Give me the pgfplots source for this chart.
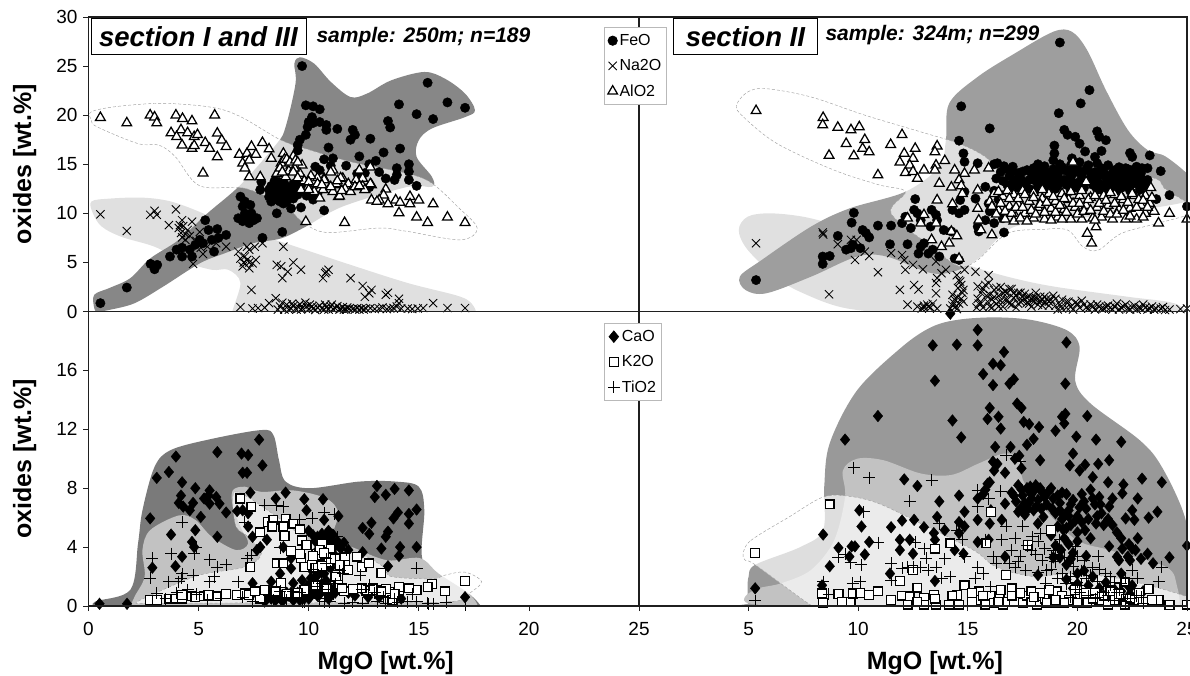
\documentclass[border=0pt]{standalone}
\usepackage{fontspec}
\setmainfont{Liberation Sans}
\usepackage{pgfplots}
\pgfplotsset{compat=1.18}
\definecolor{axc}{gray}{0.12}
\pgfplotsset{
 panel/.style={scale only axis,clip mode=individual,axis on top,
  axis line style={axc,line width=1.3pt},tick style={axc,line width=0.8pt},
  tick align=outside,xtick pos=bottom,ytick pos=left,major tick length=5pt,
  xmin=0,xmax=25,scaled ticks=false,
  tick label style={font=\fontsize{19}{20}\selectfont},
  xticklabel style={yshift=-8pt},yticklabel style={xshift=-2.5pt},
  /pgf/number format/assume math mode=true,
  legend cell align=left,
  legend style={draw=gray!55,line width=0.7pt,fill=white,font=\fontsize{16}{17}\selectfont,
   anchor=north west,inner xsep=3.5pt,inner ysep=5pt,row sep=8.5pt}},
 reg/.style={forget plot,no markers,draw=none,smooth cycle,tension=0.55,fill=#1},
 wreg/.style={forget plot,no markers,draw=gray!75,line width=0.45pt,densely dashed,smooth cycle,tension=0.55,fill=white,fill opacity=0.68},
 feo/.style={only marks,mark=*,mark size=4.7pt,mark options={fill=black,draw=black,solid}},
 nao/.style={only marks,mark=x,mark size=5.8pt,mark options={black,line width=0.85pt,solid}},
 alo/.style={only marks,mark=triangle*,mark size=5.6pt,mark options={fill=white,draw=black,line width=1.25pt,solid}},
 cao/.style={only marks,mark=diamond*,mark size=5.8pt,mark options={fill=black,draw=black,solid,xscale=1.1}},
 kao/.style={only marks,mark=square*,mark size=4.4pt,mark options={fill=white,draw=black,line width=1.25pt,solid}},
 tio/.style={only marks,mark=+,mark size=6pt,mark options={black,line width=0.85pt,solid}},
}
\begin{document}
\begin{tikzpicture}
\path[use as bounding box] (0pt,0pt) rectangle (1190pt,675pt);
%% ---------- top left
\begin{axis}[panel,at={(88.5pt,363.5pt)},anchor=south west,width=550.5pt,height=294.5pt,
 ymin=0,ymax=30,ytick={0,5,...,30},xtick=\empty,
 ylabel={\fontsize{25}{25}\selectfont\bfseries oxides [wt.\%]},
 ylabel style={at={(axis description cs:-0.116,0.5)},anchor=center}]
\addplot[reg=black!12] coordinates {(.13,11.2)(.96,11.5)(2.45,11.6)(3.75,11.2)(5.2,10)(6.35,8.65)(8,7.6)(8.95,6.95)(11.7,4.9)(14.5,2.9)(16.9,1.5)(17.5,.5)(17.55,-.4)(17,-.4)(7,-.4)(6.5,-.4)(6.9,2.9)(6.35,4.25)(5.6,4.25)(4.3,5.1)(3,6.6)(1.5,7.6)(.6,8.65)(.2,10)};
\addplot[reg=black!47] coordinates {(.26,1.7)(.96,2.4)(1.9,3.4)(2.8,5.4)(4.1,7.3)(5.4,10)(6.9,12.9)(8.55,17.1)(8.95,18.8)(9.4,23.2)(9.35,25.25)(9.6,25.9)(10.25,25.25)(11,23.4)(11.9,21.85)(12.65,22.2)(13.75,23.55)(15.25,24.4)(16.2,23.7)(17.1,22.2)(17.55,20.5)(17.1,19.8)(15.6,18.65)(15,17.45)(14.9,15.75)(15.6,13.7)(15.6,12.7)(14.5,12.7)(11.55,10.7)(9.87,8.65)(8.75,7.45)(7.45,6.95)(6.15,5.9)(5.05,4.9)(3.4,2.55)(2.1,.85)(.96,.17)(.4,0)(.26,.35)};
\addplot[wreg] coordinates {(.13,20.35)(1.35,20.9)(3.4,21.2)(5.6,20.8)(6.9,19.85)(8.75,17.45)(10.05,16.45)(11.9,15.25)(14.5,14.05)(15.6,13.05)(16.75,10.7)(17.65,8.5)(16.9,7.3)(14.5,8.15)(13.2,8.5)(10.8,8.05)(9.7,9.15)(8.95,10.7)(7.1,12.55)(5.05,12.8)(3.95,15.75)(3.2,16.95)(2.25,17.1)(.4,18.8)(.13,19.5)};
\addplot[feo] coordinates {(.54,.85)(1.74,2.44)(2.82,4.85)(3.12,4.75)(3,4.3)(3.7,5.6)(4,6.3)(4.25,6.5)(4.25,5.6)(4.7,5.6)(4.6,6.3)(4.85,6.8)(5.05,7.3)(5.2,6.95)(5.45,8.3)(5.3,9.3)(5.85,8.4)(5.7,6.1)(5.9,7.5)(6.25,7.8)(5.6,7.3)(7.9,7.5)(8.8,8.1)(6.9,11.7)(6.8,9.5)(7,10.7)(7.1,10)(7.35,10.85)(7.3,9)(7.65,9.5)(7.2,9.5)(7.4,10)(7.1,11.2)(7.5,9.3)(7,9.2)(7.8,12.4)(7.85,13.2)(8.2,11.7)(8.3,11.2)(8.55,10)(8.5,12.7)(8.65,13.2)(8.75,12.2)(8.95,11.7)(8.85,11)(9.2,10.5)(9.65,10.6)(9.3,11.5)(9.8,12.4)(9.6,13)(10.2,11.4)(10.7,10.3)(10.4,12)(9.1,12.5)(9.4,12.7)(8.4,12.2)(8.6,12)(9,12.7)(8.2,12.4)(8.9,13)(9.3,13)(9.7,25)(9.87,21)(10.2,20.9)(10.5,20.6)(10.15,19.8)(10,19.3)(9.95,18.8)(9.87,18)(9.6,17.5)(9.5,16.95)(9.5,16.4)(10.2,19.2)(10.5,19.3)(10.8,19)(10.8,18.5)(11.3,18.6)(12,18.5)(12.1,18)(11.9,17.5)(12.8,17.6)(13.6,19.4)(13.7,18.75)(14.1,21.1)(14.9,20.1)(15.4,23.3)(15.65,19.6)(16.3,21.3)(17.1,20.75)(10.9,16.7)(10.7,15.5)(11.1,15.6)(11,14.85)(11.7,14.85)(12.3,15.8)(13.4,16.2)(14.15,16.6)(13.05,15.35)(12.75,15)(10.3,14.75)(10.5,14.4)(12.2,14.05)(12.55,14.1)(13.2,14.2)(13.5,13.55)(13.9,13.4)(14,14.6)(14,13.9)(14.55,15)(14.55,14.25)(14.55,13.4)(14.9,12.8)(12.75,12.65)(8.3,12.8)(8.45,11.9)(8.55,11.4)(8.7,12.6)(8.8,11.6)(8.9,12.2)(9,11.2)(9.05,12.1)(9.15,11.9)(9.25,12.3)(8.6,13)(8.45,13.3)(8.7,11.2)(9.5,11.9)(9.55,12.3)(9.9,11.8)(10,12.2)(10.2,12)};
\addplot[nao] coordinates {(.54,9.9)(1.74,8.2)(2.8,9.85)(3.1,9.85)(3,10.25)(3.97,10.4)(3.65,8.8)(4.25,9.3)(4.7,9.15)(4.1,8.5)(4.2,8)(4.5,8.3)(5.05,8.1)(4.25,7.55)(4.75,4.85)(5.2,5.85)(5.4,6.6)(5.8,6.95)(6.25,6.6)(6.8,6.1)(7.2,6.6)(7.55,6.6)(7.9,6.95)(8.85,6.6)(7.1,5.6)(7.3,6.3)(7,4.6)(7.3,4.4)(7.45,4.9)(7.6,5.25)(7.2,5.25)(7.4,2.2)(8.55,4.75)(8.75,4.6)(8.8,3.4)(9.05,4.05)(9.3,5)(9.65,4.25)(10.65,3.4)(10.8,4.05)(10.75,3.9)(10.9,4.25)(11.9,3.4)(12.45,2.6)(12.55,1.5)(12.85,2.2)(12.75,1.85)(13.5,1.7)(13.6,1.9)(14.1,1.3)(14.1,.85)(15.65,.85)(16.3,.35)(17.1,.35)(6.9,.45)(7.45,.3)(7.7,.35)(8,.4)(8.2,.85)(8.5,1.35)(8.7,.5)(8.9,.2)(9,.7)(9.2,.3)(9.3,.55)(9.45,.2)(9.6,.75)(9.7,.35)(9.85,.9)(10,.25)(10.15,.5)(10.3,.15)(10.5,.6)(10.6,.3)(10.75,.7)(10.9,.2)(11,.5)(11.1,.25)(11.3,.55)(11.45,.3)(11.6,.2)(11.75,.4)(11.85,.3)(12,.25)(12.2,.35)(12.4,.3)(12.6,.3)(12.8,.35)(13,.25)(13.2,.3)(13.35,.4)(13.55,.25)(13.7,.3)(13.85,.35)(14,.5)(14.2,.3)(14.5,.3)(14.7,.25)(14.95,.3)(15.2,.35)(8.6,.2)(8.8,.9)(9.1,.2)(9.25,.8)(9.5,.5)(9.65,.2)(9.9,.5)(10.05,.7)(10.2,.3)(10.4,.4)(10.7,.2)(10.8,.45)(11.05,.7)(11.2,.35)(11.4,.2)(11.55,.45)(11.7,.2)(12.1,.2)(12.3,.2)(12.5,.2)(4.3,8.7)(4.4,7.9)(4.15,8.8)(4.6,7.7)(4.9,7.2)(5.1,6.5)(4.4,7.3)(6.9,5.4)(7.05,5)(7.3,5)};
\addplot[alo] coordinates {(.54,19.75)(1.74,19.2)(2.8,20)(3,19.8)(3.1,19.2)(3.97,20)(4.27,19.65)(4.7,19.4)(5.73,20)(3.75,18.2)(4.2,18.5)(4,17.8)(4.25,16.95)(4.5,18.2)(4.8,17.8)(4.95,18)(4.7,16.6)(4.8,16.9)(5.3,17.2)(5.5,16.6)(5.85,18.15)(6.05,17.45)(6.25,16.8)(5.85,15.75)(5.2,14.1)(6.85,16)(7.2,16.1)(7.4,16.8)(7.6,16)(7.9,17.2)(7,15.1)(7.3,15.4)(7.1,14.6)(7.3,13.7)(7.8,13.7)(8.2,16.55)(8.3,15.6)(8.85,16.1)(8.75,15.1)(9.3,15.8)(9.2,14.9)(9.7,14.9)(8.55,14.05)(8.95,13.7)(9.6,14.05)(8.9,15.5)(9.1,14.3)(9.35,14.6)(10,12.7)(10.25,13.2)(10.7,13.55)(11.1,14.4)(11.55,13.55)(11.2,12.9)(10.5,12.45)(10.9,12.4)(11.35,11.7)(11.8,12.7)(12.2,13.4)(12.45,13.55)(12.3,14.4)(12.85,12.9)(12.55,12.4)(13.5,12.45)(13.4,11.85)(12.85,11.35)(13.2,11.35)(13.1,11.2)(13.6,10.95)(13.95,11.35)(14.15,11.1)(14.1,10.05)(14.6,11.7)(14.6,10.95)(15,11.35)(15.65,10.95)(14.9,9.6)(15.4,9.05)(16.3,9.6)(17.1,9.05)(9.87,9.15)(11.63,9.05)(10.2,13.25)(10.4,13.6)(10.7,13.4)(11,14.2)(11.25,13)(10.65,12.4)(10.25,12.2)(9.95,12.6)(9.65,12.4)(11.45,13.6)(11.8,13)(12.15,13.4)(12.45,12.75)(12.8,13)(12.55,12.4)(11.65,12.5)(11.1,12.2)(11.4,11.75)(10.5,11.55)(12.8,14.7)(9.8,13.3)(10.1,13.8)(8.7,14.6)(9,15.5)(9.15,15.2)(9.4,15.4)(8.8,14.2)(9.3,14.2)(9.5,13.6)(9.5,15.2)(10,13.2)(10,12.4)(10.4,13)(10.6,12.9)(11,12.7)(11.3,13.3)(11.5,12.3)(11.9,12.2)(12.1,12.7)(12.3,12.8)};
\end{axis}
%% ---------- bottom left
\begin{axis}[panel,at={(88.5pt,69pt)},anchor=south west,width=550.5pt,height=294.5pt,
 ymin=0,ymax=20,ytick={0,4,8,12,16},xtick={0,5,...,25},
 xlabel={\fontsize{25}{25}\selectfont\bfseries MgO [wt.\%]},
 xlabel style={at={(axis description cs:0.54,-0.193)},anchor=center},
 ylabel={\fontsize{25}{25}\selectfont\bfseries oxides [wt.\%]},
 ylabel style={at={(axis description cs:-0.116,0.5)},anchor=center}]
\addplot[reg=black!52] coordinates {(.3,.3)(1.9,1.1)(2.25,4.25)(2.45,6.5)(3,9.45)(3.75,10.6)(5.6,11.35)(7.85,11.95)(8.4,11.6)(8.65,9.9)(8.95,8.45)(10.05,8)(12.3,8.45)(13.95,8.45)(15,8.1)(15.25,6.5)(15.15,3.25)(15.9,2.1)(17.3,.8)(17.85,-.15)(17.3,-.15)(.8,-.15)(.3,-.15)};
\addplot[reg=black!24] coordinates {(2.45,3.8)(2.8,5.15)(4.1,6.15)(4.85,5.85)(5.6,4.7)(6.7,3.8)(7.25,4.25)(6.9,5.4)(6.55,6.75)(6.55,7.85)(7.1,8.1)(7.85,7.75)(9.3,7.85)(10.8,7.3)(11.35,6.3)(11.15,4.7)(12.3,3.8)(13.6,3.1)(15.05,3.25)(15.9,2.2)(17.3,.8)(17.7,-.15)(17.2,-.15)(2.3,-.15)(1.9,-.15)(2.1,.65)(2.55,2)};
\addplot[wreg] coordinates {(2.15,.2)(3,.85)(5.05,2.1)(7.1,2.65)(7.85,3.55)(7.25,4.7)(6.7,5.4)(6.55,7.2)(6.7,7.75)(7.45,7.2)(8.75,5.85)(10.05,4.45)(12.3,3.55)(13.4,2.65)(13.75,2)(15.6,1.85)(16.2,2.1)(17.1,2.3)(17.85,1.65)(17.3,.85)(16.9,.4)(16.35,.3)(15.5,.25)(5.25,.2)(2.8,.2)};
\addplot[cao] coordinates {(.5,.15)(1.75,.15)(2.9,2.6)(2.8,5.95)(3.1,8.7)(3.65,9.1)(3.97,10.15)(3.75,4.85)(4.25,8.4)(4.2,7.5)(4.1,7)(4.3,6.75)(4.6,6.5)(4.75,7)(4.85,8)(5.1,6.05)(4.85,5.15)(4.7,4.35)(4.8,4)(4.25,3.35)(3.95,2.7)(5.25,7.3)(5.45,7.5)(5.5,7.85)(5.5,6.95)(5.8,7.4)(5.95,6.95)(5.85,10.45)(6.25,6.35)(5.85,4.7)(6.75,6.45)(7,6.5)(7.25,6.3)(6.95,10.35)(7.25,10.25)(7.75,11.3)(7.9,9.55)(7,9.05)(7.2,9.05)(7.35,7.7)(7.25,5.4)(7.45,4.7)(8.1,4.5)(7.8,4)(7.65,3.8)(8.5,7.3)(8.95,7.7)(9.8,7.25)(9.9,6.5)(10.65,7.25)(10.7,5.85)(11.35,6.1)(8.85,4)(9.2,3.25)(9.2,2.55)(8.7,2.2)(12.45,5.3)(12.85,5.65)(12.75,4.9)(13.1,8.15)(13,7.4)(13.5,7.55)(13.9,7.95)(14.55,7.85)(13.85,5.95)(14.05,6.35)(14.55,6.25)(14.9,6.55)(14.55,5.6)(13.6,5.05)(13.5,4.7)(13.3,3.9)(14.15,4)(14.9,4)(14.1,3.4)(13.6,2.7)(12.45,3.65)(17.1,.6)(10.4,4.7)(10.6,4.9)(10.9,4.7)(11.1,4.85)(11.3,4.4)(10.5,4.3)(10.8,4.2)(11.1,3.9)(11.6,4.3)(11.8,3.8)(10.4,3.8)(10.7,3.5)(11,3.1)(10.2,3)(10.5,2.5)(10.7,2.2)(11,2.6)(11.3,2.9)(10.1,1.9)(7.45,1.55)(8.3,1.65)(9.3,1.55)(9.7,1.75)(10.2,1.4)(10.6,1.5)(7.6,.9)(7.9,.7)(8.1,.5)(8.3,.95)(8.5,.4)(8.7,.8)(8.9,.5)(9.1,.7)(9.3,.4)(9.5,.9)(9.7,.6)(9.9,1)(10.1,.7)(10.3,1.1)(10.5,.8)(10.7,1.1)(10.9,.5)(11.2,.9)(11.8,.9)(12.1,.7)(12.5,1)(12.7,.6)(13.2,.6)(14.2,.5)(10,5.1)(10.2,4.8)(10.3,4.4)(10.6,4.5)(10.7,4.6)(10.9,5.1)(11.05,4.4)(11.2,4.1)(11.45,3.9)(10.3,3.4)(10.6,3)(10.9,2.7)(11.2,3.4)(10.4,2.1)(10.1,1.6)(10.3,1.6)(10.5,1.1)(10.8,1.7)(10.1,2.5)(9.9,1.3)(8,.3)(8.3,.5)(8.6,.6)(8.8,.35)(9,.9)(9.2,.9)(9.4,.6)(9.6,.4)(9.8,.5)(10,.5)(10.2,1)(10.4,.7)(10.6,1.3)(10.8,.9)(11,1.2)(11,.8)};
\addplot[kao] coordinates {(2.8,.4)(3.1,.4)(3.65,.5)(3.95,.5)(4.25,.5)(4.25,.75)(4.7,.65)(4.85,.6)(5.25,.65)(5.45,.75)(5.85,.65)(6.25,.8)(6.75,.75)(7.1,.85)(7.3,.75)(7.8,.5)(7.55,1)(8,1.1)(6.9,7.3)(7.4,6.75)(7.8,5)(8.15,5.7)(8.4,5.85)(8.35,5.4)(8.95,5.9)(8.85,5.4)(8.9,4.75)(9.3,5.6)(9.6,5.2)(9.7,4.45)(9.9,4.15)(9.2,3.75)(9.65,3.25)(9.6,3.55)(8.55,2.9)(8.85,2.9)(9.8,2.65)(10.15,2.8)(10.35,3.55)(10.6,4.25)(11,3.9)(10.45,3.45)(10.8,3.35)(11.65,3.3)(12.2,3.35)(11.65,2.8)(11.8,2.45)(12.4,2.65)(12.75,2.9)(13.3,2.25)(7.35,2.65)(11.25,2)(8.75,1.55)(17.1,1.7)(15.6,1.5)(15.4,1.3)(16.2,1)(14.9,1.1)(14.55,1.2)(14.1,1.05)(14.1,1.3)(13.65,.95)(13.5,1.15)(13.1,1.1)(12.65,1.05)(12.4,1.2)(12,1.15)(11.6,1)(11.35,1.45)(10.8,1.2)(9.8,1.1)(10.3,1.4)(13.8,.4)(10.5,3.8)(10.2,3.4)(10.7,3.6)(10.9,3)(11.2,3.2)(11.4,2.8)(10.3,2.6)(10.6,2.7)(11.5,1.2)(12.9,1.2)(13.3,1)(13.9,.8)(9.5,.9)(9,.8)(8.5,1)};
\addplot[tio] coordinates {(2.9,3.25)(2.8,1.9)(3.1,.85)(3.65,1.65)(3.75,3.55)(4.25,5.7)(4.9,4)(4.8,3.55)(5.5,3.15)(5.85,2.65)(6.25,2.8)(4.75,2.1)(4.25,2.2)(4.1,1.65)(4.2,1.9)(5.5,1.65)(5.7,2)(4.5,1.1)(6.8,1.65)(7.2,3.25)(7.4,3.45)(7.1,5.7)(8,6.85)(8.85,6.75)(8.55,6.85)(10.15,5.95)(10.7,6.35)(11.15,6.25)(8.7,3.95)(9.6,5.85)(14.9,2.55)(12.35,2.1)(12.75,1.4)(7.45,.3)(9.7,.3)(10.7,.3)(10.95,.3)(11.6,.2)(12,.25)(12.45,.2)(13.1,.3)(13.5,.2)(14.05,.25)(14.5,.3)(14.9,.3)(15.45,.15)(15.65,.15)(16.25,.25)(17.1,.05)(10.8,2.9)(11.2,3.55)(11.55,2.2)(10.6,2.2)(10.6,1.55)(11,1.75)(10.2,1.9)(10.4,3.1)(11.7,3.8)(3.5,.5)(4,.9)(4.9,.8)(5.4,.4)(6,.5)(7,.6)(8.2,.7)(9,.4)(9.6,.9)(10.1,.8)(10.5,.5)(11.1,.8)(12.7,.7)(13.4,.6)(13.9,.5)(9.8,.3)(10,.8)(10.4,1.3)(10.9,1.1)(11.2,1.5)(11.4,2.4)(11,2.4)(10.2,2.5)(10.8,3.2)(11.3,4.7)(12.4,1.1)(13,.9)(14.7,.8)(15.4,.2)(8.7,1)(8.9,.6)(9.3,1)(8.4,.4)};
\end{axis}
%% ---------- top right
\begin{axis}[panel,at={(639pt,363.5pt)},anchor=south west,width=548pt,height=294.5pt,
 ymin=0,ymax=30,ytick=\empty,xtick=\empty,
 legend style={at={(-0.0639,0.966)}}]
\addplot[reg=black!12] coordinates {(4.55,8.3)(4.95,9.65)(5.95,10)(7.5,9.65)(9.25,8.65)(12,6.95)(14.75,4.9)(16.8,3.55)(18.9,2.55)(22.3,1.5)(24.4,.85)(25.2,-.4)(24.8,-.4)(13,-.4)(12.5,-.4)(9.4,.35)(7.5,1.85)(6.3,3.4)(4.95,6.3)};
\addplot[reg=black!38] coordinates {(4.6,3.55)(5.6,5.25)(7.85,8.65)(9.6,10.5)(12.15,12.2)(13.7,14.75)(14,17.45)(14.15,21.2)(15.45,23.9)(17.15,26.3)(18.9,28.5)(19.75,28.5)(20.45,26.6)(21.3,22.55)(22.3,18.5)(23.2,16.45)(24.05,15.75)(25.25,13.4)(25.25,11.35)(20.6,9.65)(17.15,8.65)(15.6,5.6)(14.6,4.25)(13.35,3.9)(11.3,5.6)(9.95,5.6)(7.85,3.55)(5.8,1.85)(4.85,2.2)};
\addplot[wreg] coordinates {(4.45,21)(4.95,22.35)(5.8,22.7)(7.85,21.85)(10.3,20)(12.85,18.3)(14.6,17.1)(15.8,15.75)(16.8,13.7)(18.9,13.4)(23.2,13.7)(24.05,12.4)(25.25,10.7)(25.25,10)(23.7,9)(22,7.95)(20.95,6.25)(20.25,6.6)(19.55,8.3)(18.35,8.35)(16.8,7.95)(15.45,5.25)(14.6,4.6)(13.35,6.6)(11.5,10)(12.15,12.2)(10.95,12.9)(8.9,14.4)(6.3,17.1)(4.75,19.85)};
\addplot[feo] coordinates {(5.34,3.2)(8.38,4.85)(8.7,5.65)(8.38,5.6)(9.07,7.7)(9.45,6.3)(9.76,6.8)(10.1,6.45)(9.67,6.45)(9.7,9.05)(9.8,10.05)(10.2,8.3)(10.35,8)(10.5,7.55)(10.9,8.75)(11.5,8.75)(11.45,6.85)(12.25,6.85)(12,9)(12.15,9.65)(12.4,8.5)(12.6,11.45)(12.55,10.35)(12.7,10)(12.85,9.3)(13.35,10.35)(13.55,9.85)(13.6,9.3)(13.3,8.65)(13.9,8.3)(14.25,8.15)(12.85,6.6)(12.75,5.9)(13,6.95)(13.4,6.3)(13.2,5.9)(13.7,5.6)(14.4,5.4)(14.6,5.25)(14.3,10.35)(14.6,10)(14.85,10.35)(14.65,11.35)(14.85,12.2)(14.7,20.9)(14.6,17.4)(14.8,16.1)(14.85,15.25)(15.45,15.1)(15.35,11.5)(15.8,12.7)(15.45,8.65)(15.8,9.3)(15.5,8.15)(16.65,8.05)(15.95,11)(16,18.65)(16.35,15.1)(16.65,14.8)(17.05,14.75)(16.3,13.55)(19.2,27.4)(20.55,22.55)(20.15,21.2)(19.15,20.2)(19.4,18.5)(19.55,18)(19.9,17.8)(20.1,17.1)(20.9,18.35)(21,17.8)(21.3,17.45)(18.95,16.9)(18.95,16.1)(18.9,15.4)(20.35,16.3)(21.1,16.35)(19.75,15.6)(20.8,15.75)(22.4,16.15)(22.5,15.75)(23.3,15.9)(23.8,14.3)(24.2,11.85)(23.6,11.45)(25,10.7)(16.2,15)(17.5,14.25)(18.2,15)(22.3,14.5)(22.7,14.75)(22.95,14.6)(23.2,14.6)(23.2,13.4)(22.85,12.4)(16.6,13.3)(16.9,13.8)(17.2,13)(17.4,13.6)(17.6,12.9)(17.9,14.1)(18,13.4)(18.2,12.9)(18.4,14.3)(18.6,13.7)(18.8,13.1)(18.9,14.5)(19.1,13.9)(19.3,14.7)(19.4,13.4)(19.6,14.2)(19.8,13.1)(20,14.6)(20.2,13.7)(20.3,12.6)(20.5,14.9)(20.6,13.4)(20.8,14.2)(21,13)(21.1,14.6)(21.3,13.7)(21.5,12.7)(21.6,14.1)(21.8,13.2)(21.9,14.7)(22.1,13.7)(22.2,12.8)(22.4,13.9)(22.5,13)(22.6,14.2)(22.8,13.5)(17,12.7)(18.1,12.4)(19,12.5)(19.7,12.3)(20.9,12.4)(21.2,12.3)(21.9,12.4)(22.4,12.3)(16,10.2)(16.2,12.3)(16.4,11.4)(16.6,9.5)(16.2,9)(16.5,14.2)(16.8,12.9)(17,14.3)(17.1,13.4)(17.3,14.1)(17.3,12.6)(17.5,13.2)(17.7,14.4)(17.8,13.4)(17.8,12.5)(18,14.6)(18.1,13.8)(18.3,13.5)(18.3,14.4)(18.5,13)(18.5,14.8)(18.7,14.1)(18.7,12.6)(18.9,13.6)(19,14.2)(19.2,13.2)(19.2,15)(19.4,14.4)(19.5,12.9)(19.7,13.7)(19.7,14.9)(19.9,14.2)(20,13.1)(20.1,15.2)(20.2,14.1)(20.4,13.3)(20.4,14.5)(20.6,14.1)(20.7,12.9)(20.8,13.6)(20.9,15.1)(21,13.8)(21.1,12.7)(21.2,14.2)(21.3,13)(21.4,14.9)(21.5,13.6)(21.6,13.1)(21.7,14.4)(21.8,12.7)(21.9,13.7)(22,14.2)(22.1,13.1)(22.2,14.6)(22.3,13.4)(22.4,12.8)(22.5,14.4)(22.6,13.3)(22.7,13.9)(22.8,12.9)(22.9,14.1)(23,13.4)(23.1,12.8)(16.8,14.5)(18.2,12.6)(19.1,12.8)(20,12.6)(21,12.5)(22,12.6)};
\addlegendentry{FeO}
\addplot[nao] coordinates {(5.34,6.95)(8.38,8.05)(8.4,7.85)(8.67,1.75)(9.07,6.85)(9.67,7.3)(9.93,7.3)(9.85,5.25)(10.3,6.1)(10.5,5.65)(10.9,4)(11.5,5.95)(11.9,2.2)(12,5.75)(12.1,5.25)(12.15,4.25)(12.5,4.75)(12.55,2.7)(12.75,2.25)(12.95,4.3)(12.25,.7)(13.55,5.1)(13.55,2.9)(13.55,1.85)(13.8,3.9)(14,4.25)(13.6,3.4)(14.3,1.7)(14.5,3.7)(14.85,4.25)(14.65,3.05)(14.8,2.2)(15.35,4.05)(15.95,3.7)(15.45,2.55)(12.7,.5)(12.9,.3)(13,.6)(13.15,.7)(13.3,.4)(13.4,.8)(13.6,.3)(14.2,.3)(14.35,.9)(14.45,.5)(14.6,.8)(14.5,.25)(14.7,1.3)(15.4,.4)(15.45,1.3)(15.6,.8)(15.7,2.3)(15.85,1.6)(15.95,2.9)(16,.5)(16.1,1.2)(16.2,2.2)(16.3,.8)(16.4,1.6)(16.5,2.5)(16.6,.5)(16.7,1.2)(16.8,1.9)(16.9,.8)(17,2.3)(17.1,1.4)(17.2,.4)(17.3,1.9)(17.4,1)(17.5,1.5)(17.7,.9)(17.8,1.6)(17.9,.5)(18,1.4)(18.1,1.9)(18.3,1.1)(18.4,.6)(18.5,1.5)(18.7,1)(18.9,1.6)(19,.6)(19.1,.2)(19.3,1.2)(19.5,.4)(19.6,1)(19.8,.2)(20,.8)(20.2,1.1)(20.4,.4)(20.6,.7)(20.8,.2)(21,.5)(21.2,.3)(21.4,.6)(21.6,.2)(21.8,.8)(22,.4)(22.2,.7)(22.4,.2)(22.6,.6)(22.8,.4)(23,.7)(23.2,.2)(23.4,.5)(23.6,.3)(23.9,.45)(24.2,.2)(24.7,.25)(25,.3)(15.5,.8)(15.6,1.9)(15.7,.4)(15.8,2.7)(15.9,1)(16,1.7)(16.1,.4)(16.2,1.5)(16.3,2.4)(16.4,.5)(16.5,1.1)(16.6,1.9)(16.7,2)(16.8,1.2)(16.9,2.3)(17,.7)(17.1,1.9)(17.2,1.6)(17.3,.8)(17.4,1.9)(17.5,1.1)(17.6,1.8)(17.7,1.4)(17.8,.8)(17.9,1.3)(18,1)(18.1,1.4)(18.2,.7)(18.3,1.5)(18.4,1.2)(18.5,.9)(18.6,1.3)(18.7,.6)(18.8,1.2)(19,1.3)(19.2,.7)(19.3,.3)(19.5,1)(19.7,.5)(19.9,.9)(20.1,.4)(20.3,.7)(20.5,.3)(20.7,.5)(20.9,.7)(21.1,.3)(21.3,.5)(21.5,.4)(21.7,.5)(21.9,.2)(22.1,.5)(22.3,.3)(22.5,.4)(22.7,.2)(22.9,.3)(23.1,.4)(23.3,.3)(23.5,.2)(23.8,.3)(24,.15)(13,.4)(13.2,.5)(14.3,.6)(14.4,1.2)(14.5,1.5)(14.55,2.4)(14.7,2.7)(14.75,1.9)(14.6,3.2)(14.8,1)};
\addlegendentry{Na2O}
\addplot[alo] coordinates {(5.34,20.45)(8.4,19.75)(8.38,19)(9.07,18.75)(9.67,18.5)(10.05,18.8)(10.3,17.5)(9.45,17.1)(10.2,16.6)(10.5,16.25)(8.67,15.9)(9.8,15.85)(11.48,17)(12,18)(10.9,13.9)(12.1,16.1)(12.6,16.6)(12.5,15.6)(11.9,15.2)(12.35,14.9)(12.15,14.15)(12.5,14.25)(13,14.4)(12.7,13.55)(13.6,16.85)(13.5,16.25)(13.95,15.35)(13.55,14.9)(13.5,14.4)(13.7,13.05)(13.6,11.35)(14.25,12.65)(14.4,14.4)(14.85,14.05)(14.6,13.4)(14.7,12.8)(14.75,12)(14.3,10.95)(15.3,14.4)(15.95,14.6)(12.25,9.5)(13,9.85)(12.85,9)(13.55,9)(13.35,7.3)(13.8,6.6)(14.15,6.95)(14.25,8.15)(14.5,7.7)(14.6,5.4)(15.45,10.5)(15.45,12.35)(15.5,9.3)(16.1,7.8)(15.6,8.3)(20.45,7.95)(20.65,6.95)(20.85,8.6)(19.8,15.2)(20.4,13.2)(23.35,12.6)(24.2,10)(25,9.4)(23.7,9)(16,11.2)(16.2,12)(16.4,10.3)(16.6,11.7)(16.7,9.4)(16.9,10.7)(17.1,11.9)(17.2,9.6)(17.3,10.9)(17.5,12.3)(17.6,10)(17.8,11.2)(18,9.5)(18,12.1)(18.2,10.6)(18.4,11.5)(18.5,9.4)(18.7,12)(18.8,10.5)(19,11.2)(19.1,9.6)(19.3,12)(19.4,10.4)(19.6,11.4)(19.7,9.4)(19.9,10.6)(20.1,11.8)(20.2,9.4)(20.4,10.8)(20.6,11.6)(20.7,9.5)(20.9,10.6)(21.1,9.6)(21.2,11.8)(21.4,10.8)(21.6,9.4)(21.7,11.9)(21.9,10.4)(22.1,11.4)(22.2,9.4)(22.4,10.5)(22.6,11.8)(22.7,9.4)(22.9,10.8)(23.1,11.8)(23.1,10)(23.3,11)(23.5,10.2)(16.1,10.7)(16.3,9.9)(16.4,12.2)(16.5,11)(16.7,10.2)(16.8,12.3)(16.9,11.5)(17,10)(17.1,9.2)(17.2,10.6)(17.3,11.5)(17.4,9.5)(17.5,10.6)(17.6,11.9)(17.7,9.2)(17.9,10.3)(18,11.6)(18.1,9.9)(18.3,10.9)(18.4,12.4)(18.5,10.1)(18.6,11.1)(18.8,9.3)(18.9,11.7)(19,10.1)(19.2,10.8)(19.3,9.4)(19.4,11.5)(19.5,10.1)(19.7,12.2)(19.8,11)(20,9.9)(20.1,11)(20.2,12.3)(20.3,10.2)(20.5,11.4)(20.6,10.3)(20.8,9.3)(20.8,11.8)(21,11)(21.2,10.2)(21.3,11.3)(21.5,9.9)(21.5,12.1)(21.7,11)(21.8,9.9)(22,11.7)(22.1,10.3)(22.3,11.1)(22.4,9.7)(22.5,12)(22.7,10.6)(22.8,11.4)(23,9.6)(23,11.3)(23.2,10.6)(23.4,11.6)};
\addlegendentry{AlO2}
\end{axis}
%% ---------- bottom right
\begin{axis}[panel,at={(639pt,69pt)},anchor=south west,width=548pt,height=294.5pt,
 ymin=0,ymax=20,ytick=\empty,xtick={5,10,15,20,25},
 xlabel={\fontsize{25}{25}\selectfont\bfseries MgO [wt.\%]},
 xlabel style={at={(axis description cs:0.54,-0.193)},anchor=center},
 legend style={at={(-0.0639,0.961)}}]
\addplot[reg=black!40] coordinates {(5,2)(5.3,2.8)(7.35,4)(8.4,5.15)(8.45,8.1)(8.7,11.05)(9.95,14.65)(12,17.6)(13.35,18.95)(14.6,19.45)(16.3,19.6)(18,19.4)(19.55,18.7)(20.1,17.6)(19.9,15.3)(20.6,13.75)(22.85,11.25)(23.85,9.45)(24.9,6.05)(25.25,2.45)(25.2,-.15)(24.8,-.15)(5.3,-.15)(5,.2)(4.95,1.1)};
\addplot[reg=black!24] coordinates {(4.85,.65)(5.45,1.2)(6.5,1.55)(7.85,2.45)(8.9,4.45)(9.4,7.4)(9.3,9.2)(9.95,10)(11.15,9.9)(12.85,9)(14.25,8.9)(15.45,9.65)(16.65,10.35)(17.5,10)(17.6,8.3)(19.75,4.7)(21.45,3.8)(24.05,2.65)(24.55,1.3)(24.65,-.15)(24.2,-.15)(8.3,-.15)(7.8,-.15)(5.1,.15)};
\addplot[wreg] coordinates {(4.75,3.55)(5.1,4.45)(6.85,6.05)(8.4,7.4)(9.6,7.45)(10.95,6.95)(12.85,5.6)(15.25,3.8)(16.3,2.65)(18,2)(19.75,2.2)(22.3,1.75)(25.25,.5)(25.25,-.05)(24.8,-.05)(8.3,.05)(7.85,.05)(5.3,2.8)(4.85,3.1)};
\addplot[cao] coordinates {(14.2,19.85)(5.3,1.2)(8.4,4.85)(8.7,2.7)(8.35,1.4)(9.1,3.95)(9.4,11.3)(9.6,3.35)(9.7,4.05)(9.85,4.05)(10.3,3.5)(10.5,4.35)(10.05,6.5)(10.15,5.4)(10.9,12.9)(11.5,5.35)(11.45,2.2)(12,5.8)(11.9,4.5)(11.9,3.8)(12.35,4.5)(12.5,3.55)(12.1,8.6)(12.7,8.15)(12.55,5.85)(13,5.35)(13.45,4.95)(13.5,4.5)(13.4,17.7)(13.5,15.3)(13.7,7.1)(13.6,6.05)(13.95,5.15)(13.5,1.7)(14.5,17.75)(14.3,12.6)(14.7,11.45)(14.6,7.5)(14.85,6.4)(14.6,5.7)(14.85,5.4)(14.6,4.95)(14.4,3.8)(14.8,3.55)(15.45,18.75)(15.45,17.7)(15.7,15.75)(16.15,16.45)(16.5,16.35)(16.65,17.25)(16.15,15)(17.1,15.4)(16.9,15.1)(16,13.45)(15.9,12.7)(16.4,12.85)(16.5,12.05)(17.25,13.75)(17.45,13.45)(17.55,12.5)(17.8,12.35)(18.25,12.15)(18,11.35)(17.7,10.95)(16.25,10.8)(16.95,10.8)(17.35,10.2)(17.15,10)(16.15,9.8)(16.35,9.65)(16.2,9.2)(16.7,9.05)(17.45,9.35)(18.3,9.9)(19.5,17.9)(19.45,15.1)(19.45,13.05)(19.3,12.85)(19.4,12.4)(19,11.9)(20.45,12.9)(19.95,11.5)(20.85,11.3)(22,11.15)(19.8,10.35)(21.45,9.9)(20.95,9.65)(20.35,9.6)(19.65,9.55)(20.1,9.2)(20.7,8.75)(22.95,8.65)(23.85,8.4)(22.1,8.25)(21.4,8.4)(23.65,6.4)(23.25,6)(22.5,6.5)(22.75,7.3)(22.05,7.65)(21.6,7.3)(21.45,6.75)(21.1,6.3)(20.85,5.6)(20.35,5.15)(20.6,4.6)(22.2,5.95)(22.6,5.85)(22.75,4.6)(21.45,4.05)(21.8,3.35)(22.3,3.35)(22.65,3.8)(23.2,3.55)(24.2,3.3)(23.45,2.9)(25,4.1)(15.9,8.3)(15.7,7.6)(15.45,7.3)(15.45,5.85)(16.05,6.5)(16,5.6)(16.55,5.85)(16.7,6.95)(15.45,4.35)(15.95,4.5)(16.7,3.35)(18.2,5.6)(18.45,6.05)(18.2,2.1)(19.25,3.8)(17,7.7)(17.2,7.1)(17.3,8.2)(17.4,6.6)(17.5,7.5)(17.6,6.2)(17.7,8)(17.8,7)(17.9,7.6)(18,6.5)(18.1,8.2)(18.2,7.2)(18.4,7.7)(18.6,6.9)(18.8,8)(18.9,7.3)(19,6.3)(19.2,7)(19.3,5.9)(19.5,7.6)(19.6,6.5)(19.7,5.5)(19.8,7.2)(20,6.1)(20.2,7.6)(20.4,6.6)(20.6,7.9)(20.8,6.9)(21,7.4)(20,5)(19.4,4.6)(19,4.1)(19.8,3.6)(20.4,3.4)(18.9,3.3)(19.5,2.8)(20,2.2)(20.7,2)(21.3,1.6)(22,2.2)(22.5,1.4)(19.1,5.4)(18.8,4.8)(20.9,.9)(21.5,.7)(22,1)(22.7,.6)(23,1)(19.8,1.2)(17.1,7.5)(17.3,6.4)(17.45,7.9)(17.6,7)(17.75,6.6)(17.85,8.1)(18,7.8)(18.15,6.8)(18.3,8)(18.35,6.6)(18.5,7.4)(18.7,7.8)(18.85,6.6)(19.1,7.5)(19.2,6.5)(19.3,7.7)(19.35,5.2)(19.4,6.1)(19.5,5.3)(19.6,6.1)(19.7,6.9)(19.9,5.8)(20.1,6.7)(20.2,5.7)(20.3,7.1)(20.5,5.9)(20.7,7.3)(20.9,6.1)(21.05,6.9)(21.2,5.5)(21.4,5.9)(21.6,5.5)(21.8,5)(22,4.6)(22.05,3.9)(22.35,4.2)(22.4,3.1)(22.5,3.9)(22.9,3.2)(21.9,3.1)(20,4.4)(19.6,4.2)(19.2,3.3)(19.7,3.2)(20.3,2.4)(20.5,1.4)(21,1.2)(21.2,.7)(21.7,1.1)(22,.5)(22.4,.8)(22.3,1.4)(20,1.5)(19.5,1.8)(17.9,7.3)(15.8,7.9)(16,8.4)};
\addlegendentry{CaO}
\addplot[kao] coordinates {(5.3,3.6)(8.7,6.9)(8.35,.85)(8.4,.2)(9.1,.8)(9.25,.3)(9.65,.3)(9.75,.85)(10.1,.9)(10.5,.75)(10.9,1)(11.5,.4)(11.9,1.7)(12,.7)(12.35,.65)(12.7,1.25)(12.25,.1)(12.5,2.45)(13,.55)(13,.1)(13.5,3.9)(13.45,.75)(13.55,.1)(14.2,4.25)(14.5,.75)(14.15,.1)(14.6,.1)(14.85,1.4)(15.5,1)(15.45,.4)(16,.7)(15.8,.1)(16.2,.2)(15.85,4.25)(16.05,6.4)(16.45,.65)(16.6,.1)(16.75,2.1)(17,1.2)(17.25,.65)(17.5,.2)(17.75,4.15)(17.7,.7)(18.15,.1)(18.5,.5)(18.8,5.15)(18.95,.2)(19.05,1)(19.3,.7)(19.85,.3)(20.45,.2)(21,.4)(21.4,.1)(22.15,.1)(22.15,1.65)(23.25,1.15)(23.7,.4)(24.2,.05)(25,.1)(16.8,.3)(17.9,.25)(18.3,.9)(19.6,.4)(20.1,.8)(20.8,.9)(21.7,.4)(22.6,.4)(23,.3)(19.9,1.1)(18.7,1.1)(17.9,1)(13.5,.5)(14.3,.7)(15.2,.3)(15.7,.7)(16.4,.3)(17.1,.3)(17.4,.9)(18,.6)(18.6,.2)(19.4,.2)(20,.2)(20.7,.5)(21.2,.7)(21.9,.8)(22.4,.5)(22.8,.9)(23.4,.4)(21.5,1)(20.4,.9)(19,.4)(17,.7)(16.5,1.1)(15.2,.9)(12.7,.3)};
\addlegendentry{K2O}
\addplot[tio] coordinates {(5.3,.35)(8.4,1.65)(8.65,.8)(9.4,3.5)(9.1,3.3)(9.65,2.95)(9.75,1.55)(10.15,2.8)(10.1,1.65)(10.25,6.4)(9.8,9.4)(10.5,8.7)(10.9,4.3)(11.5,2.9)(11.5,1.75)(12.35,7.1)(13.35,8.55)(12,2.55)(12.25,2.65)(12.6,4.35)(12.5,2.65)(12.85,2.65)(13,3.9)(13.1,3.25)(13.2,2.45)(13.55,2.65)(13.7,5.6)(13.8,1.9)(13.95,3.2)(14.2,2)(14.5,5.15)(14.75,4.5)(14.85,3.35)(15.45,7.85)(15.45,6.75)(15.45,2.65)(15.35,1.9)(15.7,2.2)(15.95,7.3)(16.5,7.8)(16.75,10.25)(17.4,9.8)(16.05,1.3)(15.8,4.5)(16.55,4.5)(17.15,4.6)(16.15,3.35)(16.3,2.9)(16.65,3.35)(16.75,5.4)(17.5,5.4)(17.15,2.65)(17.65,2.45)(18.55,1.55)(17.95,4.7)(18.3,4.9)(19.6,5.5)(18.6,2.45)(18.9,3.8)(19.2,4.5)(19.9,4.05)(19.55,2.9)(20.3,3.1)(20.95,3.4)(21.3,2.2)(22.5,2.45)(22.75,1.9)(23.85,2.65)(23.7,1.65)(17,3.8)(17.4,3.4)(17.7,4.1)(18.1,3.5)(18.4,3.1)(19,3)(19.3,2.2)(19.7,2)(20,1.6)(20.4,1.9)(20.6,1.2)(20.9,1.7)(21.2,.9)(21.5,1.4)(21.8,.9)(22,1.5)(22.3,.8)(22.6,1.2)(22.9,.6)(20.1,.9)(19.7,.6)(20.8,.5)(21.7,.4)(22.2,.3)(23,.2)(18.2,2.3)(18.8,2.5)(19,3.5)(19.4,3.3)(19.8,2.7)(20.2,2.4)(20.7,2.6)(21.2,1.3)(21.5,2)(21.9,1.1)(22.2,1.9)(22.4,.5)(22.7,.7)(22,.4)(21.4,.7)(20.9,.6)(20.5,.7)(20.2,1.4)(19.9,1.1)(19.5,1.5)(19.1,1.9)(18.8,3.3)(18.5,3.9)(17.9,3.8)(19.1,4)(20,3.4)(20.6,2.1)(21,2.5)(21.7,1.6)(18.2,4.4)(17.3,3)(16.9,2.9)};
\addlegendentry{TiO2}
\end{axis}
%% ---------- text boxes
\node[draw=black,line width=0.8pt,fill=white,anchor=north west,inner sep=0pt,minimum width=215pt,minimum height=36pt] at (90.5pt,657pt) {\fontsize{27.5}{28}\selectfont\bfseries\itshape section I and III};
\node[anchor=west] at (313pt,637.5pt) {\fontsize{21}{22}\selectfont\bfseries\itshape sample: 250m; n=189};
\node[draw=black,line width=0.8pt,fill=white,anchor=north west,inner sep=0pt,minimum width=144pt,minimum height=36pt] at (673pt,657pt) {\fontsize{27.5}{28}\selectfont\bfseries\itshape section II};
\node[anchor=west] at (822pt,639.5pt) {\fontsize{21}{22}\selectfont\bfseries\itshape sample: 324m; n=299};
\end{tikzpicture}
\end{document}
